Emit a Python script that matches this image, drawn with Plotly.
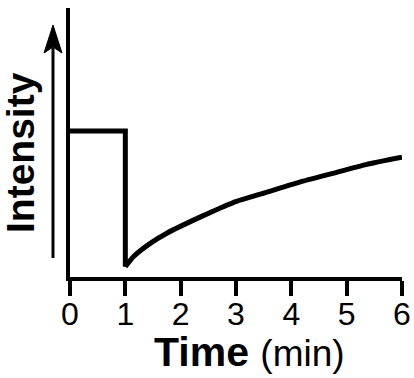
import plotly.graph_objects as go

# ---- data ----
step_time = [0, 1, 1]
step_intensity = [1.0, 1.0, 0.07]
recovery_time = [1.0, 1.15, 1.45, 1.75, 2.35, 2.95, 3.55, 4.15, 4.75, 5.35, 6.0]
recovery_intensity = [0.07, 0.14, 0.23, 0.30, 0.41, 0.51, 0.58, 0.65, 0.71, 0.77, 0.82]
x_ticks = [0, 1, 2, 3, 4, 5, 6]
x_tick_labels = ["0", "1", "2", "3", "4", "5", "6"]

W, H = 414, 378
ML, MR, MT, MB = 70, 12, 8, 101
PW, PH = W - ML - MR, H - MT - MB

def px(x):
    return (x - ML) / PW

def py(y):
    return (H - MB - y) / PH

FONT = "Liberation Sans, Arial, Helvetica, sans-serif"

fig = go.Figure()
fig.add_trace(go.Scatter(x=step_time, y=step_intensity, mode="lines",
                         line=dict(color="black", width=5), showlegend=False))
fig.add_trace(go.Scatter(x=recovery_time, y=recovery_intensity, mode="lines",
                         line=dict(color="black", width=5, shape="spline", smoothing=0.6),
                         showlegend=False))

# arrow along the y axis (decoration)
ax_x = 53
fig.add_shape(type="line", xref="paper", yref="paper",
              x0=px(ax_x), x1=px(ax_x), y0=py(258), y1=py(48),
              line=dict(color="black", width=3))
fig.add_shape(type="path", xref="paper", yref="paper",
              path=(f"M {px(ax_x)} {py(25)} L {px(44)} {py(53)} L {px(ax_x)} {py(47)} "
                    f"L {px(62)} {py(53)} Z"),
              fillcolor="black", line=dict(color="black", width=1))

fig.add_annotation(text="<b>Intensity</b>", xref="paper", yref="paper",
                   x=px(20), y=py(152), xanchor="center", yanchor="middle",
                   textangle=-90, showarrow=False,
                   font=dict(family=FONT, size=39, color="black"))
fig.add_annotation(text="<b>Time</b> <span style='font-size:37px'>(min)</span>",
                   xref="paper", yref="paper",
                   x=px(249), y=py(352), xanchor="center", yanchor="middle",
                   showarrow=False,
                   font=dict(family=FONT, size=41, color="black"))

fig.update_layout(
    width=W, height=H,
    margin=dict(l=ML, r=MR, t=MT, b=MB, pad=0, autoexpand=False),
    paper_bgcolor="white", plot_bgcolor="white",
    xaxis=dict(range=[0, 6], tickvals=x_ticks, ticktext=x_tick_labels,
               ticks="outside", ticklen=15, tickwidth=4, tickcolor="black",
               ticklabelstandoff=-9,
               showline=True, linewidth=4, linecolor="black",
               showgrid=False, zeroline=False, automargin=False,
               tickfont=dict(family=FONT, size=32, color="black")),
    yaxis=dict(range=[0, PH / 146.0], showline=True, linewidth=4, linecolor="black",
               showticklabels=False, ticks="", showgrid=False, zeroline=False,
               automargin=False),
)

fig.write_html("out.html", config={"displayModeBar": False},
               post_script="document.body.style.margin='0';document.body.style.overflow='hidden';")
